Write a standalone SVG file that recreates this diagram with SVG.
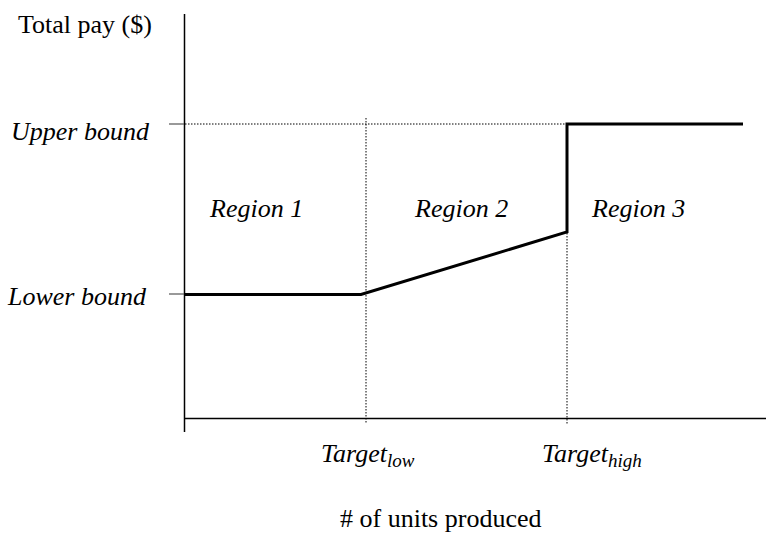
<svg xmlns="http://www.w3.org/2000/svg" width="766" height="533" viewBox="0 0 766 533">
<style>
text{font-family:"Liberation Serif","Times New Roman",serif;font-size:26px;fill:#000}
.i{font-style:italic}
.sub{font-size:19px}
.ax{stroke:#000;stroke-width:1.5;fill:none}
.tk{stroke:#555;stroke-width:1.2}
.dot{stroke:#000;stroke-width:1;stroke-dasharray:1.5 1.5;fill:none}
.pay{stroke:#000;stroke-width:3;fill:none}
</style>
<rect width="766" height="533" fill="#fff"/>
<g id="axes">
<line class="ax" x1="184.5" y1="14" x2="184.5" y2="432"/>
<line class="ax" x1="184" y1="418.5" x2="766" y2="418.5"/>
<line class="tk" x1="169" y1="124" x2="184" y2="124"/>
<line class="tk" x1="169" y1="294" x2="184" y2="294"/>
</g>
<g id="guides">
<line class="dot" x1="185" y1="124" x2="567" y2="124"/>
<line class="dot" x1="366" y1="118" x2="366" y2="424"/>
<line class="dot" x1="567" y1="233" x2="567" y2="424"/>
</g>
<g id="pay-line">
<polyline class="pay" points="185,294.5 361,294.5 567,232 567,124 743,124"/>
</g>
<g id="labels">
<text x="18" y="33">Total pay ($)</text>
<text class="i" x="11" y="140">Upper bound</text>
<text class="i" x="8" y="305">Lower bound</text>
<text class="i" x="210" y="217">Region 1</text>
<text class="i" x="415" y="217">Region 2</text>
<text class="i" x="592" y="217">Region 3</text>
<text class="i" x="321" y="462">Target<tspan class="sub" dy="5">low</tspan></text>
<text class="i" x="542" y="462">Target<tspan class="sub" dy="5">high</tspan></text>
<text x="340" y="527"># of units produced</text>
</g>
</svg>
